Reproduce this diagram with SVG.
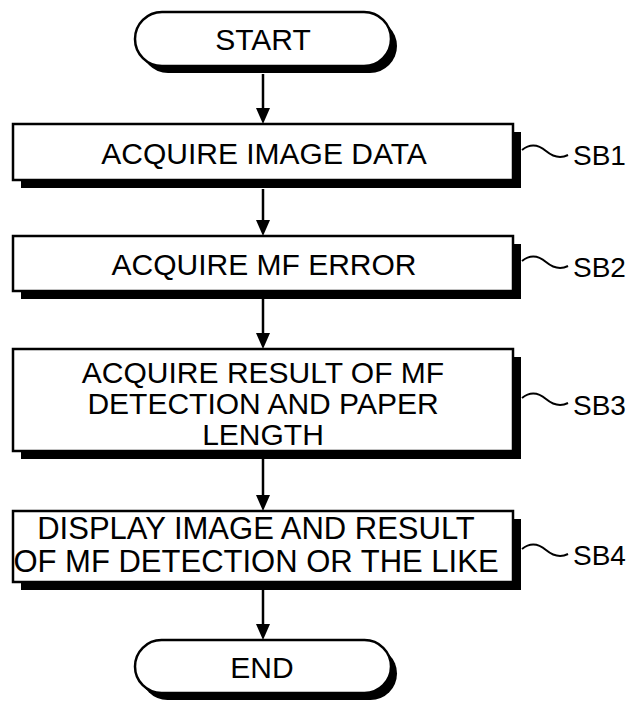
<svg xmlns="http://www.w3.org/2000/svg" width="632" height="704" viewBox="0 0 632 704">
<style>
.box{fill:#fff;stroke:#000;stroke-width:2.5}
.sh{fill:#000}
.t{font-family:"Liberation Sans",Arial,sans-serif;font-size:30px;fill:#000;text-anchor:middle}
.term{font-size:30px}
.lab{font-family:"Liberation Sans",Arial,sans-serif;font-size:28px;fill:#000}
.ln{stroke:#000;stroke-width:2.5;fill:none}
.tl{stroke:#000;stroke-width:2;fill:none}
</style>
<rect width="632" height="704" fill="#fff"/>
<g id="connectors">
<line class="ln" x1="263" y1="74" x2="263" y2="108"/><path d="M256,108 L270,108 L263,124 Z"/>
<line class="ln" x1="263" y1="189" x2="263" y2="220"/><path d="M256,220 L270,220 L263,236 Z"/>
<line class="ln" x1="263" y1="299" x2="263" y2="333"/><path d="M256,333 L270,333 L263,349 Z"/>
<line class="ln" x1="263" y1="459" x2="263" y2="495"/><path d="M256,495 L270,495 L263,511 Z"/>
<line class="ln" x1="263" y1="590" x2="263" y2="624"/><path d="M256,624 L270,624 L263,640 Z"/>
</g>
<g id="start">
<rect class="sh" x="141" y="19" width="256" height="54" rx="27"/>
<rect class="box" x="135" y="12" width="256" height="54" rx="27"/>
<text class="t term" x="263" y="50">START</text>
</g>
<g id="SB1">
<rect class="sh" x="21" y="132" width="500" height="56"/>
<rect class="box" x="13" y="124" width="500" height="56"/>
<text class="t" x="264" y="164">ACQUIRE IMAGE DATA</text>
<path class="tl" d="M522,150 C532,142 540,146 546,151 S560,159 568,155"/>
<text class="lab" x="573" y="165">SB1</text>
</g>
<g id="SB2">
<rect class="sh" x="21" y="244" width="500" height="55"/>
<rect class="box" x="13" y="236" width="500" height="55"/>
<text class="t" x="264" y="275">ACQUIRE MF ERROR</text>
<path class="tl" d="M522,261 C532,253 540,257 546,262 S560,270 568,266"/>
<text class="lab" x="573" y="277">SB2</text>
</g>
<g id="SB3">
<rect class="sh" x="21" y="357" width="500" height="102"/>
<rect class="box" x="13" y="349" width="500" height="102"/>
<text class="t" x="263" y="383">ACQUIRE RESULT OF MF</text>
<text class="t" x="263" y="414">DETECTION AND PAPER</text>
<text class="t" x="263" y="445">LENGTH</text>
<path class="tl" d="M522,398 C532,390 540,394 546,399 S560,407 568,403"/>
<text class="lab" x="573" y="415">SB3</text>
</g>
<g id="SB4">
<rect class="sh" x="21" y="519" width="500" height="71"/>
<rect class="box" x="13" y="511" width="500" height="71"/>
<text class="t" x="256" y="539" style="font-size:31px">DISPLAY IMAGE AND RESULT</text>
<text class="t" x="256" y="572" style="font-size:31px">OF MF DETECTION OR THE LIKE</text>
<path class="tl" d="M522,549 C532,541 540,545 546,550 S560,558 568,554"/>
<text class="lab" x="573" y="565">SB4</text>
</g>
<g id="end">
<rect class="sh" x="141" y="647" width="256" height="53" rx="26.5"/>
<rect class="box" x="135" y="640" width="256" height="53" rx="26.5"/>
<text class="t term" x="262" y="678">END</text>
</g>
</svg>
